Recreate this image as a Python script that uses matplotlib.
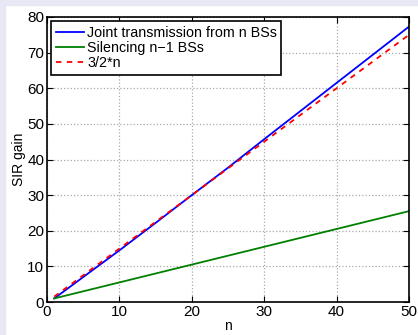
import numpy as np
import matplotlib.pyplot as plt
from matplotlib.patches import Rectangle

plt.rcParams['font.family'] = ['Liberation Sans', 'DejaVu Sans']

# n values and SIR gain
n = [1, 5, 10, 15, 20, 25, 30, 35, 40, 45, 50]
joint = [1.0, 7.0, 14.5, 22.2, 30.0, 37.7, 45.7, 53.6, 61.5, 69.4, 77.3]
silencing = [1.0, 3.0, 5.5, 8.0, 10.5, 13.0, 15.5, 18.0, 20.5, 23.0, 25.5]
ref_n = [1, 50]
ref_gain = [1.5, 75.0]

x_ticks = [0, 10, 20, 30, 40, 50]
y_ticks = [0, 10, 20, 30, 40, 50, 60, 70, 80]

fig = plt.figure(figsize=(4.18, 3.35), dpi=100)
fig.patch.set_facecolor('white')
# lavender frame on the left and top edges
fig.patches.append(Rectangle((0, 0), 5 / 418, 1, transform=fig.transFigure,
                             color='#e8e8f4', zorder=-10))
fig.patches.append(Rectangle((0, 1 - 5 / 335), 1, 5 / 335, transform=fig.transFigure,
                             color='#e8e8f4', zorder=-10))

ax = fig.add_axes([47 / 418, 33 / 335, 362 / 418, 285 / 335])
ax.plot(n, joint, color='#0000ff', lw=1.3, label='Joint transmission from n BSs')
ax.plot(n, silencing, color='#008000', lw=1.3, label='Silencing n\u22121 BSs')
ax.plot(ref_n, ref_gain, color='#ff0000', lw=1.3, ls=(0, (3, 3)), label='3/2*n')

ax.set_xlim(0, 50)
ax.set_ylim(0, 80)
ax.set_xticks(x_ticks)
ax.set_yticks(y_ticks)
ax.tick_params(direction='in', top=True, right=True, labelsize=11, length=4,
               pad=2, colors='black')
ax.grid(True, ls=':', color='#aaaaaa', lw=0.9)
for s in ax.spines.values():
    s.set_linewidth(1.2)
ax.set_xlabel('n', fontsize=10, labelpad=0)
ax.set_ylabel('SIR gain', fontsize=10, labelpad=1)

leg = ax.legend(loc='upper left', fontsize=10.3, frameon=True, fancybox=False,
                handlelength=2.0, handletextpad=0.2, borderpad=0.3,
                labelspacing=0.1, borderaxespad=0.3)
leg.get_frame().set_edgecolor('black')
leg.get_frame().set_linewidth(1.2)
leg.get_frame().set_alpha(1)

fig.savefig('out.png', dpi=100)
